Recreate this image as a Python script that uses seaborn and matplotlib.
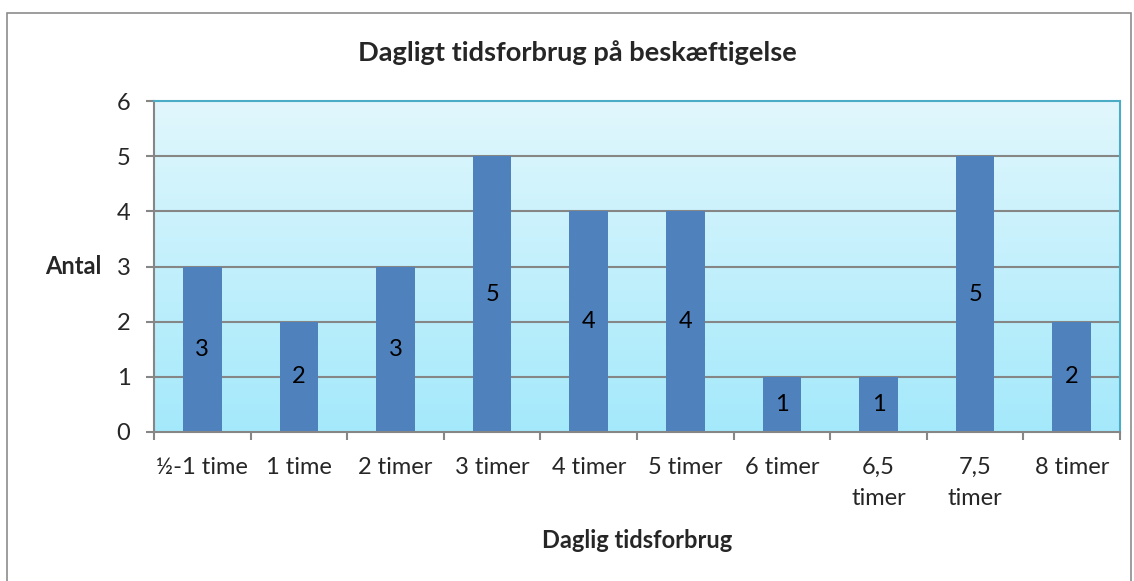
import numpy as np
import matplotlib.pyplot as plt
import matplotlib.patches as mpatches
import seaborn as sns

categories = ["½-1 time", "1 time", "2 timer", "3 timer", "4 timer", "5 timer",
              "6 timer", "6,5\ntimer", "7,5\ntimer", "8 timer"]
antal = [3, 2, 3, 5, 4, 4, 1, 1, 5, 2]

sns.set_theme(style="white")
plt.rcParams["font.family"] = ["Lato", "DejaVu Sans"]

W, H = 1134, 581
fig = plt.figure(figsize=(W / 100, H / 100), dpi=100)
ax = fig.add_axes([154 / W, 1 - 432 / H, 966 / W, 331 / H])

# outer chart frame
fig.patches.append(mpatches.Rectangle((7 / W, -0.01), 1124 / W, 1.01 - 13 / H, transform=fig.transFigure,
                                      fill=False, edgecolor="#8c8c8c", linewidth=1.2))

# gradient plot area
grad = np.linspace(0, 1, 256)[:, None]
top = np.array([225, 247, 253]) / 255
bot = np.array([164, 233, 251]) / 255
img = top[None, None, :] * (1 - grad[..., None]) + bot[None, None, :] * grad[..., None]
ax.imshow(img, extent=[-0.5, 9.5, 0, 6], aspect="auto", zorder=0, origin="upper")

for y in range(1, 6):
    ax.axhline(y, color="#868686", linewidth=1.5, zorder=1)

sns.barplot(x=categories, y=antal, color="#4F81BD", width=0.4, saturation=1,
            edgecolor="none", ax=ax, zorder=2)
ax.bar_label(ax.containers[0], label_type="center", fontsize=17, color="black")

ax.set_xlim(-0.5, 9.5)
ax.set_ylim(0, 6)
ax.set_yticks(range(7))
ax.tick_params(axis="y", length=6, width=1.5, color="#868686", labelsize=17, pad=11, left=True)
ax.set_xticks(np.arange(-0.5, 10, 1), minor=True)
ax.tick_params(axis="x", which="minor", length=6, width=1.5, color="#868686", bottom=True)
ax.tick_params(axis="x", which="major", length=0, labelsize=17, pad=18)
for lbl in ax.get_xticklabels():
    lbl.set_verticalalignment("top")
    lbl.set_multialignment("center")
    lbl.set_linespacing(1.6)

for s in ["top", "right"]:
    ax.spines[s].set_color("#4BACC6")
    ax.spines[s].set_linewidth(1.5)
for s in ["left", "bottom"]:
    ax.spines[s].set_color("#868686")
    ax.spines[s].set_linewidth(1.5)

ax.set_xlabel("Daglig tidsforbrug", fontsize=17, fontweight="bold")
ax.xaxis.set_label_coords(0.5, -0.327)
ax.xaxis.label.set_verticalalignment("center")
ax.set_ylabel("Antal", fontsize=17, fontweight="bold", rotation=0, ha="right", va="center")
ax.yaxis.set_label_coords(-0.054, 0.5)
ax.text((577 - 154) / 966, 1 + (101 - 53) / 331, "Dagligt tidsforbrug på beskæftigelse",
        transform=ax.transAxes, fontsize=19.6, fontweight="bold", ha="center", va="center")

fig.savefig("out.png", dpi=100)
